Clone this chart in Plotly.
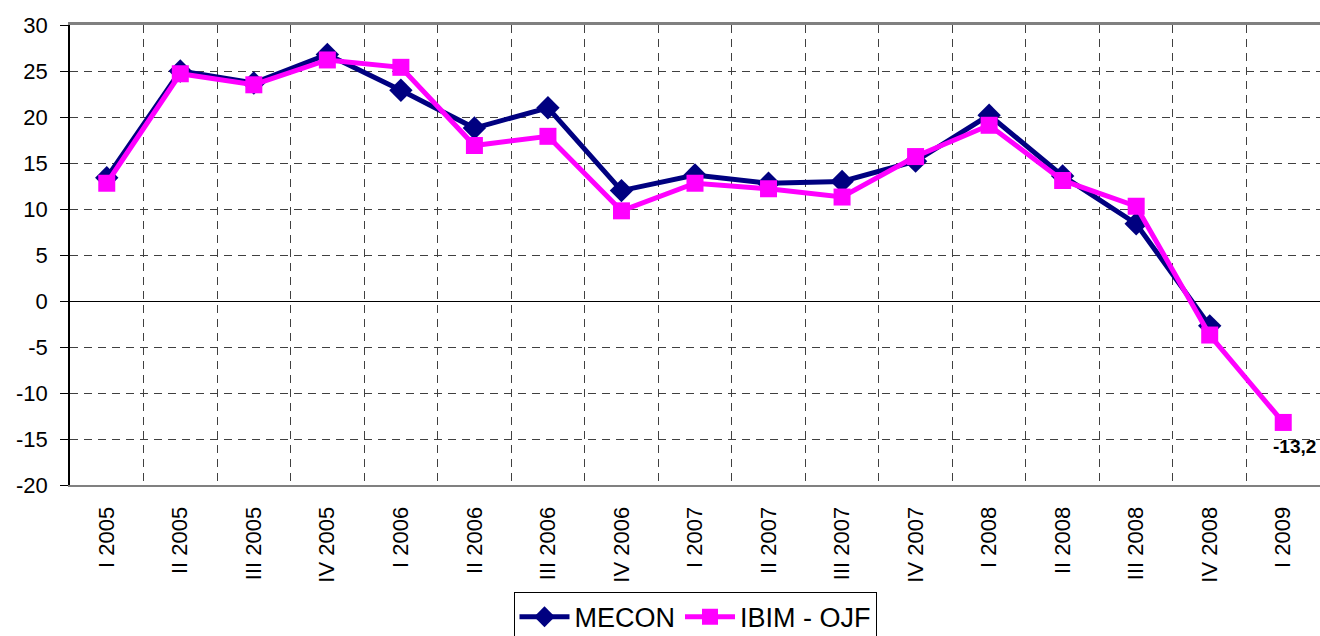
import plotly.graph_objects as go

categories = ["I 2005", "II 2005", "III 2005", "IV 2005",
              "I 2006", "II 2006", "III 2006", "IV 2006",
              "I 2007", "II 2007", "III 2007", "IV 2007",
              "I 2008", "II 2008", "III 2008", "IV 2008", "I 2009"]
mecon = [13.4, 25.0, 23.7, 26.8, 22.9, 18.8, 21.0, 12.0, 13.7, 12.8, 13.0, 15.2,
         20.2, 13.6, 8.4, -2.7, None]
ibim = [12.8, 24.7, 23.5, 26.2, 25.4, 16.9, 17.9, 9.8, 12.8, 12.2, 11.3, 15.7,
        19.1, 13.1, 10.3, -3.7, -13.2]
y_ticks = [-20, -15, -10, -5, 0, 5, 10, 15, 20, 25, 30]
y_ticktext = ["-20", "-15", "-10", "-5", "0", "5", "10", "15", "20", "25", "30"]
label_last = "-13,2"

xi = list(range(len(categories)))
FONT = "Liberation Sans, Arial, sans-serif"

fig = go.Figure()
fig.add_trace(go.Scatter(
    x=xi, y=mecon, name="MECON", mode="lines+markers",
    line=dict(color="#000080", width=5),
    marker=dict(symbol="diamond", size=18, color="#000080"),
    connectgaps=False))
fig.add_trace(go.Scatter(
    x=xi, y=ibim, name="IBIM - OJF", mode="lines+markers",
    line=dict(color="#FF00FF", width=5),
    marker=dict(symbol="square", size=17, color="#FF00FF")))

# invisible trace to hold the category gridline axis
fig.add_trace(go.Scatter(x=[xi[0], xi[-1]], y=[0, 0], xaxis="x2", mode="none",
                         showlegend=False, hoverinfo="skip"))

fig.add_annotation(x=xi[-1], y=ibim[-1], text="<b>" + label_last + "</b>",
                   showarrow=False, xanchor="center", yanchor="top", yshift=-12,
                   xshift=11, font=dict(family=FONT, size=19, color="black"))

rng = [-0.5, len(categories) - 0.5]
GRID = "#404040"
fig.update_layout(
    width=1320, height=636,
    margin=dict(l=70, r=0, t=25, b=151, autoexpand=False),
    plot_bgcolor="white", paper_bgcolor="white",
    font=dict(family=FONT, size=22, color="black"),
    showlegend=True,
    legend=dict(orientation="h", x=0.5, xanchor="center", y=-0.232, yanchor="top",
                bordercolor="black", borderwidth=1, font=dict(size=27),
                itemwidth=50, tracegroupgap=0),
    xaxis=dict(range=rng, tickmode="array", tickvals=xi, ticktext=categories,
               tickangle=-90, showgrid=False, zeroline=False, ticks="",
               showline=True, linecolor="#808080", linewidth=2,
               tickfont=dict(size=22), ticklabelstandoff=11),
    xaxis2=dict(range=rng, overlaying="x", side="top", tickmode="array",
                tickvals=[i + 0.5 for i in xi[:-1]], showticklabels=False,
                showgrid=True, gridcolor=GRID, gridwidth=1, griddash="8px,6px",
                ticks="", showline=True, linecolor="#808080", linewidth=2.5,
                zeroline=False),
    yaxis=dict(range=[-20, 30], tickmode="array", tickvals=y_ticks,
               ticktext=y_ticktext,
               showgrid=True, gridcolor=GRID, gridwidth=1, griddash="8px,6px",
               zeroline=True, zerolinecolor="black", zerolinewidth=1,
               showline=True, linecolor="black", linewidth=1.5,
               ticks="outside", ticklen=8, tickcolor="black",
               tickfont=dict(size=22), ticklabelstandoff=8),
)

fig.write_html("out.html", config={"displayModeBar": False},
               post_script="document.body.style.margin='0';document.body.style.overflow='hidden';")
